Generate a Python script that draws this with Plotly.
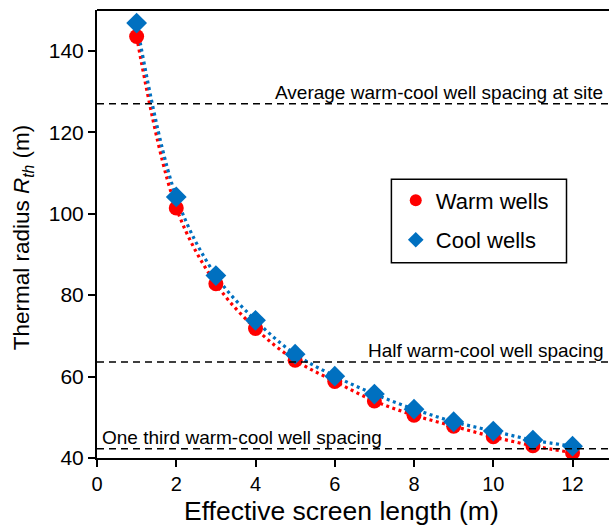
import plotly.graph_objects as go

# Effective screen length (m) and thermal radius (m) per well type
screen_length = [1, 2, 3, 4, 5, 6, 7, 8, 9, 10, 11, 12]
warm_radius = [143.5, 101.4, 82.8, 71.8, 64.0, 58.8, 54.0, 50.5, 47.8, 45.2, 43.0, 41.3]
cool_radius = [146.8, 104.1, 84.8, 73.8, 65.5, 60.1, 55.7, 52.0, 48.9, 46.6, 44.4, 42.9]

# Reference spacings (m)
spacing_levels = [127.0, 63.6, 42.3]
spacing_labels = ["Average warm-cool well spacing at site",
                  "Half warm-cool well spacing",
                  "One third warm-cool well spacing"]

x_ticks = [0, 2, 4, 6, 8, 10, 12]
y_ticks = [40, 60, 80, 100, 120, 140]

RED = "#FF0000"
BLUE = "#0070C0"
FONT = "Liberation Sans, Arial, sans-serif"

fig = go.Figure()

# Dotted trend curves
fig.add_trace(go.Scatter(x=screen_length, y=warm_radius, mode="lines",
                         line=dict(color=RED, width=3.2, dash="3px,3.5px", shape="spline"),
                         showlegend=False, hoverinfo="skip"))
fig.add_trace(go.Scatter(x=screen_length, y=cool_radius, mode="lines",
                         line=dict(color=BLUE, width=3.2, dash="3px,3.5px", shape="spline"),
                         showlegend=False, hoverinfo="skip"))

# Markers
fig.add_trace(go.Scatter(x=screen_length, y=warm_radius, mode="markers",
                         name="Warm wells", legendgroup="warm",
                         marker=dict(symbol="circle", size=15, color=RED)))
fig.add_trace(go.Scatter(x=screen_length, y=cool_radius, mode="markers",
                         name="Cool wells", legendgroup="cool",
                         marker=dict(symbol="diamond", size=16, color=BLUE)))

# Reference spacing lines
for lvl in spacing_levels:
    fig.add_shape(type="line", xref="paper", yref="y", x0=0, x1=1, y0=lvl, y1=lvl,
                  line=dict(color="black", width=1.5, dash="7px,5px"))

# Labels above the spacing lines
fig.add_annotation(x=0.993, xref="paper", y=spacing_levels[0], yref="y",
                   text=spacing_labels[0], showarrow=False, xanchor="right",
                   yanchor="bottom", yshift=-1,
                   font=dict(family=FONT, size=19, color="black"))
fig.add_annotation(x=0.993, xref="paper", y=spacing_levels[1], yref="y",
                   text=spacing_labels[1], showarrow=False, xanchor="right",
                   yanchor="bottom", yshift=-1,
                   font=dict(family=FONT, size=19, color="black"))
fig.add_annotation(x=0.006, xref="paper", y=spacing_levels[2], yref="y",
                   text=spacing_labels[2], showarrow=False, xanchor="left",
                   yanchor="bottom", yshift=-1,
                   font=dict(family=FONT, size=19, color="black"))

# Axis titles
fig.add_annotation(x=0.4775, xref="paper", y=-0.118, yref="paper",
                   text="Effective screen length (m)", showarrow=False,
                   xanchor="center", yanchor="middle",
                   font=dict(family=FONT, size=26.5, color="black"))
fig.add_annotation(x=-0.145, xref="paper", y=0.492, yref="paper",
                   text="Thermal radius <i>R<sub>th</sub></i> (m)", showarrow=False,
                   textangle=-90, xanchor="center", yanchor="middle",
                   font=dict(family=FONT, size=22.5, color="black"))

# Top frame line
fig.add_shape(type="line", xref="paper", yref="paper", x0=0, x1=1, y0=1, y1=1,
              line=dict(color="black", width=2))

# Legend frame
fig.add_shape(type="rect", xref="paper", yref="paper",
              x0=0.575, x1=0.917, y0=0.436, y1=0.622,
              line=dict(color="black", width=1.5))

fig.update_layout(
    width=609, height=531,
    margin=dict(l=97, r=0, t=10, b=73),
    plot_bgcolor="white", paper_bgcolor="white",
    font=dict(family=FONT, size=20, color="black"),
    legend=dict(x=0.5835, y=0.622, xanchor="left", yanchor="top",
                borderwidth=0, bgcolor="rgba(0,0,0,0)",
                font=dict(family=FONT, size=22),
                traceorder="grouped", tracegroupgap=8,
                itemsizing="constant"),
    xaxis=dict(range=[0, 12.92], tickvals=x_ticks, ticks="outside", ticklen=7,
               tickwidth=2, tickcolor="black", showline=True, linecolor="black",
               linewidth=2, showgrid=False, zeroline=False,
               tickfont=dict(family=FONT, size=20)),
    yaxis=dict(range=[40, 150], tickvals=y_ticks, ticks="outside", ticklen=7,
               tickwidth=2, tickcolor="black", showline=True, linecolor="black",
               linewidth=2, showgrid=False, zeroline=False,
               tickfont=dict(family=FONT, size=21)),
)

fig.write_html("out.html")
